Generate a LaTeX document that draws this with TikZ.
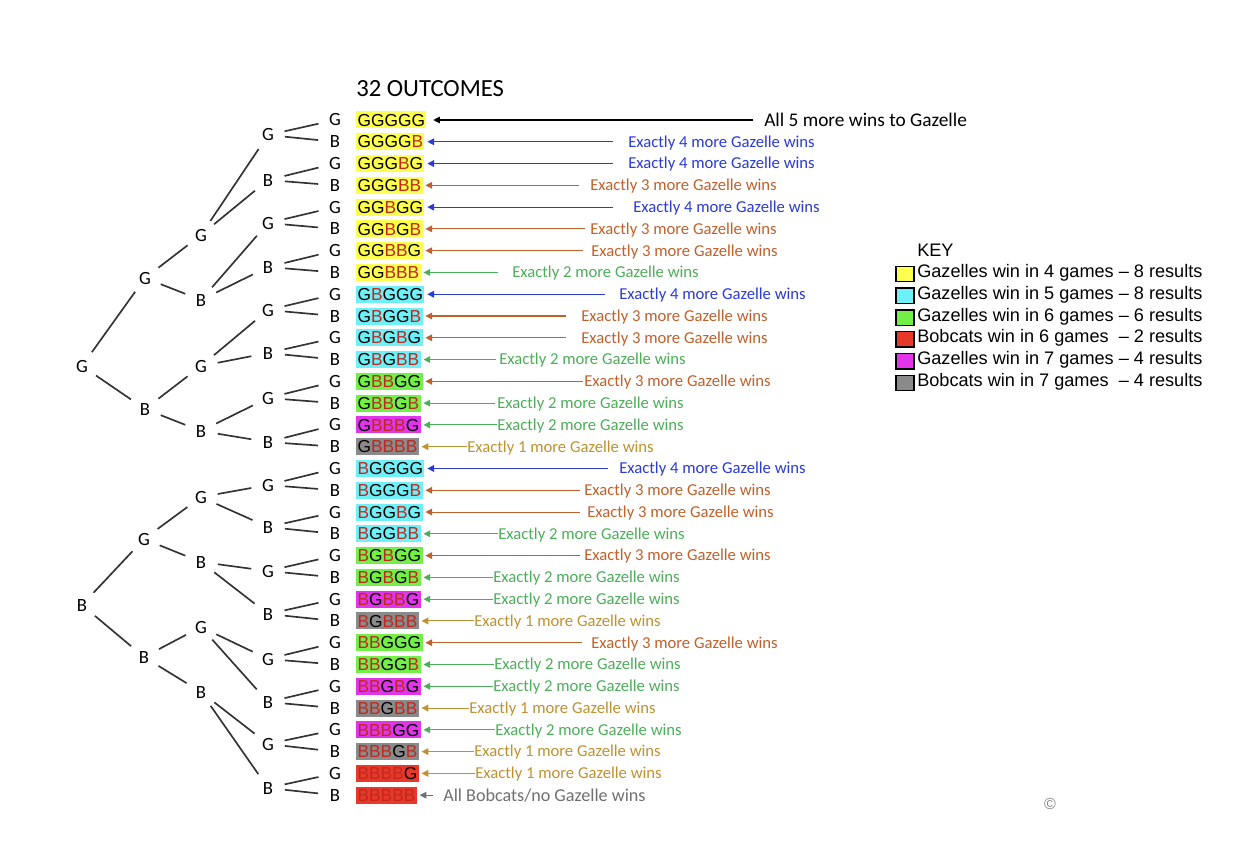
\documentclass[tikz,border=0pt]{standalone}
\usepackage{fontspec}
\usetikzlibrary{arrows.meta}
\newfontfamily\calfont{Carlito}
\newfontfamily\arifont{Liberation Sans}

% box fills
\definecolor{cyel}{HTML}{FFFF4F}
\definecolor{ccya}{HTML}{6EF0F8}
\definecolor{cgrn}{HTML}{72F048}
\definecolor{cmag}{HTML}{E035E8}
\definecolor{cgry}{HTML}{8A8A8A}
\definecolor{cred}{HTML}{E8382A}
% letter B inside the boxes
\definecolor{bred}{HTML}{C0281E}
% pointer colours
\definecolor{ablu}{HTML}{2B3BD6}
\definecolor{abrn}{HTML}{C0612C}
\definecolor{agrn}{HTML}{4DAE5A}
\definecolor{agld}{HTML}{BE9232}
\definecolor{agry}{HTML}{707070}
\definecolor{branchc}{HTML}{333333}

% typeset an outcome string, B letters in red
\makeatletter
\def\outc#1{\edef\outc@tmp{#1}\expandafter\outc@\outc@tmp\relax}
\def\outc@#1{\ifx#1\relax\else\ifx#1B\textcolor{bred}{B}\else#1\fi\expandafter\outc@\fi}
\makeatother

\begin{document}
\begin{tikzpicture}[x=0.75pt,y=-0.75pt,
  tnode/.style={circle, minimum size=25pt, inner sep=0pt,
    font=\calfont\fontsize{14}{16}\selectfont, text height=9pt, text depth=0pt},
  branch/.style={draw=branchc, line width=1.25pt},
  outbox/.style={anchor=west, inner xsep=1pt, inner ysep=0pt,
    text height=11pt, text depth=1.75pt, font=\arifont\fontsize{13}{15}\selectfont},
  lbl/.style={anchor=west, inner sep=0pt,
    font=\calfont\fontsize{12.5}{14}\selectfont, text height=9pt, text depth=1pt},
  pointer/.style={line width=0.8pt, -{Triangle[length=5pt,width=5pt]}, shorten >=2pt},
  keybox/.style={draw=black, line width=1pt, minimum width=13.5pt, minimum height=11.5pt, inner sep=0pt},
  keytxt/.style={anchor=west, inner sep=0pt,
    font=\arifont\fontsize{13.6}{16}\selectfont, text height=10.7pt, text depth=1pt}
]
\path[fill=white] (0,0) rectangle (1258,842);
\useasboundingbox (0,0) rectangle (1258,842);

% title
\node[anchor=base west, inner sep=0pt, font=\calfont\fontsize{18.5}{20}\selectfont]
  (title) at (356,97) {32 OUTCOMES};

% tree: first four games
\node[tnode] (t-G) at (82,366) {G};
\node[tnode] (t-B) at (82,605) {B};

\node[tnode] (t-GG) at (145,278) {G};
\node[tnode] (t-GB) at (145,409) {B};
\node[tnode] (t-BG) at (144,539) {G};
\node[tnode] (t-BB) at (144,657) {B};

\node[tnode] (t-GGG) at (201,235) {G};
\node[tnode] (t-GGB) at (201,300) {B};
\node[tnode] (t-GBG) at (201,366) {G};
\node[tnode] (t-GBB) at (201,431) {B};
\node[tnode] (t-BGG) at (201,497) {G};
\node[tnode] (t-BGB) at (201,562) {B};
\node[tnode] (t-BBG) at (201,627) {G};
\node[tnode] (t-BBB) at (201,692) {B};

\node[tnode] (t-GGGG) at (268,135) {G};
\node[tnode] (t-GGGB) at (268,180) {B};
\node[tnode] (t-GGBG) at (268,223) {G};
\node[tnode] (t-GGBB) at (268,267) {B};
\node[tnode] (t-GBGG) at (268,310) {G};
\node[tnode] (t-GBGB) at (268,353) {B};
\node[tnode] (t-GBBG) at (268,398) {G};
\node[tnode] (t-GBBB) at (268,442) {B};
\node[tnode] (t-BGGG) at (268,485) {G};
\node[tnode] (t-BGGB) at (268,527) {B};
\node[tnode] (t-BGBG) at (268,571) {G};
\node[tnode] (t-BGBB) at (268,614) {B};
\node[tnode] (t-BBGG) at (268,659) {G};
\node[tnode] (t-BBGB) at (268,702) {B};
\node[tnode] (t-BBBG) at (268,744) {G};
\node[tnode] (t-BBBB) at (268,788) {B};

% fifth game and the outcome boxes
\foreach \s/\l/\f [count=\i from 0] in {
  GGGGG/G/cyel,GGGGB/B/cyel,GGGBG/G/cyel,GGGBB/B/cyel,
  GGBGG/G/cyel,GGBGB/B/cyel,GGBBG/G/cyel,GGBBB/B/cyel,
  GBGGG/G/ccya,GBGGB/B/ccya,GBGBG/G/ccya,GBGBB/B/ccya,
  GBBGG/G/cgrn,GBBGB/B/cgrn,GBBBG/G/cmag,GBBBB/B/cgry,
  BGGGG/G/ccya,BGGGB/B/ccya,BGGBG/G/ccya,BGGBB/B/ccya,
  BGBGG/G/cgrn,BGBGB/B/cgrn,BGBBG/G/cmag,BGBBB/B/cgry,
  BBGGG/G/cgrn,BBGGB/B/cgrn,BBGBG/G/cmag,BBGBB/B/cgry,
  BBBGG/G/cmag,BBBGB/B/cgry,BBBBG/G/cred,BBBBB/B/cred}{
  \pgfmathsetmacro\yy{120+21.78*\i}
  \node[tnode] (t-\s) at (335,\yy) {\l};
  \node[outbox, fill=\f] (o-\s) at (356,\yy) {\outc{\s}};
}

% branches
\foreach \p in {G,B,GG,GB,BG,BB,GGG,GGB,GBG,GBB,BGG,BGB,BBG,BBB,
  GGGG,GGGB,GGBG,GGBB,GBGG,GBGB,GBBG,GBBB,
  BGGG,BGGB,BGBG,BGBB,BBGG,BBGB,BBBG,BBBB}{
  \draw[branch] (t-\p) -- (t-\p G);
  \draw[branch] (t-\p) -- (t-\p B);
}

% pointers with their counts
\foreach \s/\c/\nw/\e/\t in {
  GGGGB/ablu/4/613/628, GGGBG/ablu/4/613/628, GGGBB/abrn/3/579/590,
  GGBGG/ablu/4/613/633, GGBGB/abrn/3/585/590, GGBBG/abrn/3/583/591,
  GGBBB/agrn/2/498/512, GBGGG/ablu/4/605/619, GBGGB/abrn/3/566/581,
  GBGBG/abrn/3/566/581, GBGBB/agrn/2/496/499, GBBGG/abrn/3/583/584,
  GBBGB/agrn/2/495/497, GBBBG/agrn/2/497/497, GBBBB/agld/1/467/467,
  BGGGG/ablu/4/608/619, BGGGB/abrn/3/580/584, BGGBG/abrn/3/580/587,
  BGGBB/agrn/2/498/498, BGBGG/abrn/3/580/584, BGBGB/agrn/2/493/493,
  BGBBG/agrn/2/493/493, BGBBB/agld/1/474/474, BBGGG/abrn/3/582/591,
  BBGGB/agrn/2/494/494, BBGBG/agrn/2/493/493, BBGBB/agld/1/469/469,
  BBBGG/agrn/2/495/495, BBBGB/agld/1/474/474, BBBBG/agld/1/475/475}{
  \coordinate (s-\s) at (\e,0 |- o-\s);
  \draw[pointer, color=\c] (s-\s) -- (o-\s.east);
  \node[lbl, text=\c] (x-\s) at (\t,0 |- o-\s) {Exactly \nw\ more Gazelle wins};
}

% the two extreme outcomes
\coordinate (s-GGGGG) at (753,0 |- o-GGGGG);
\draw[pointer, color=black, shorten >=5pt] (s-GGGGG) -- (o-GGGGG.east);
\node[lbl, font=\calfont\fontsize{14.5}{16}\selectfont, text height=10.3pt]
  (x-GGGGG) at (764,0 |- o-GGGGG) {All 5 more wins to Gazelle};

\coordinate (s-BBBBB) at (433,0 |- o-BBBBB);
\draw[pointer, color=agry] (s-BBBBB) -- (o-BBBBB.east);
\node[lbl, text=agry, font=\calfont\fontsize{13.6}{16}\selectfont, text height=9.8pt]
  (x-BBBBB) at (443,0 |- o-BBBBB) {All Bobcats/no Gazelle wins};

% key
\node[keytxt] (key) at (917,250) {KEY};
\foreach \c/\t [count=\i from 0] in {
  cyel/Gazelles win in 4 games – 8 results,
  ccya/Gazelles win in 5 games – 8 results,
  cgrn/Gazelles win in 6 games – 6 results,
  cred/Bobcats win in 6 games~ – 2 results,
  cmag/Gazelles win in 7 games – 4 results,
  cgry/Bobcats win in 7 games~ – 4 results}{
  \pgfmathsetmacro\ky{271+21.8*\i}
  \node[keybox, fill=\c] (k\i) at (905,\ky+3) {};
  \node[keytxt] (kt\i) at (917,\ky) {\t};
}

% copyright mark
\node[inner sep=0pt, text=gray, font=\arifont\fontsize{12}{13}\selectfont] (copy) at (1050,804) {\textcopyright};
\end{tikzpicture}
\end{document}
